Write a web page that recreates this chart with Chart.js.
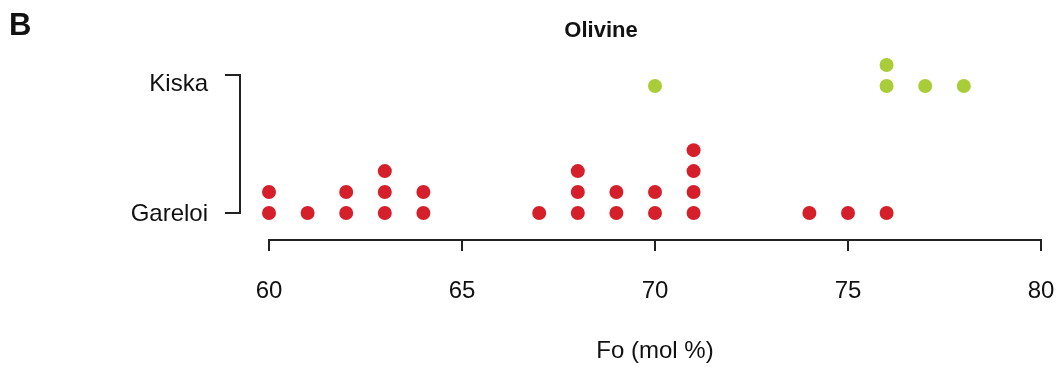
<!DOCTYPE html>
<html>
<head>
<meta charset="utf-8">
<script src="https://cdn.jsdelivr.net/npm/chart.js@4"></script>
<style>
  html, body { margin: 0; padding: 0; background: #fff; }
  #wrap { width: 1060px; height: 373px; }
</style>
</head>
<body>
<div id="wrap"><canvas id="olivine-chart"></canvas></div>
<script>
// Data (Fo mol % of each olivine analysis)
const groups = ['Gareloi', 'Kiska'];
const gareloiFo = [60, 60, 61, 62, 62, 63, 63, 63, 64, 64, 67, 68, 68, 68, 69, 69, 70, 70, 71, 71, 71, 71, 74, 75, 76];
const kiskaFo = [70, 76, 76, 77, 78];
const xTicks = [60, 65, 70, 75, 80];

const FONT = '"Liberation Sans", Arial, Helvetica, sans-serif';
const stackStep = 0.165; // vertical spacing of stacked dots (y units)

// stack repeated values upward, like R's stripchart(method = "stack")
function stackPoints(values, groupIndex) {
    const seen = {};
    return values.map(v => {
        const k = seen[v] || 0;
        seen[v] = k + 1;
        return { x: v, y: groupIndex + 1 + k * stackStep };
    });
}

// bracket-style y axis + panel letter + title
const decorations = {
    id: 'decorations',
    afterDraw(chart) {
        const ctx = chart.ctx;
        const y = chart.scales.y;
        const area = chart.chartArea;
        const bx = area.left - 29;
        const yBottom = y.getPixelForValue(1);
        const yTop = y.getPixelForValue(2) - 11;
        ctx.save();
        ctx.strokeStyle = '#222';
        ctx.lineWidth = 2;
        ctx.beginPath();
        ctx.moveTo(bx - 15, yTop);
        ctx.lineTo(bx, yTop);
        ctx.lineTo(bx, yBottom);
        ctx.lineTo(bx - 15, yBottom);
        ctx.stroke();

        ctx.fillStyle = '#111';
        ctx.font = '24px ' + FONT;
        ctx.textAlign = 'right';
        ctx.textBaseline = 'middle';
        groups.forEach((g, i) => {
            ctx.fillText(g, bx - 32, y.getPixelForValue(i + 1) + (i === 1 ? -2 : 1));
        });

        ctx.textAlign = 'center';
        ctx.font = 'bold 22px ' + FONT;
        ctx.fillText('Olivine', 601, 31);

        ctx.textAlign = 'left';
        ctx.font = 'bold 31px ' + FONT;
        ctx.fillText('B', 9, 26);
        ctx.restore();
    }
};

const ctx = document.getElementById('olivine-chart').getContext('2d');
const chart = new Chart(ctx, {
    type: 'scatter',
    data: {
        datasets: [{
            label: 'Gareloi',
            data: stackPoints(gareloiFo, 0),
            backgroundColor: '#d5202b',
            borderWidth: 0,
            pointRadius: 7,
            clip: false
        }, {
            label: 'Kiska',
            data: stackPoints(kiskaFo, 1),
            backgroundColor: '#a9cd38',
            borderWidth: 0,
            pointRadius: 7,
            clip: false
        }]
    },
    options: {
        responsive: true,
        maintainAspectRatio: false,
        animation: false,
        layout: { padding: { left: 269, right: 0, top: 50, bottom: 0 } },
        plugins: {
            legend: { display: false },
            tooltip: { enabled: false },
            title: { display: false }
        },
        scales: {
            x: {
                type: 'linear',
                min: 60,
                max: 80,
                afterBuildTicks: s => { s.ticks = xTicks.map(v => ({ value: v })); },
                afterFit: s => { s.height = 133; s.paddingRight = 19; },
                border: { display: true, color: '#222', width: 2 },
                grid: { drawOnChartArea: false, color: '#222', lineWidth: 2, tickLength: 11 },
                ticks: { color: '#111', font: { family: FONT, size: 24 }, padding: 26, maxRotation: 0 },
                title: {
                    display: true,
                    text: 'Fo (mol %)',
                    color: '#111',
                    font: { family: FONT, size: 24 },
                    padding: { top: 0, bottom: 7 }
                }
            },
            y: {
                display: false,
                min: 0.7874,
                max: 2.2835
            }
        }
    },
    plugins: [decorations]
});
</script>
</body>
</html>
